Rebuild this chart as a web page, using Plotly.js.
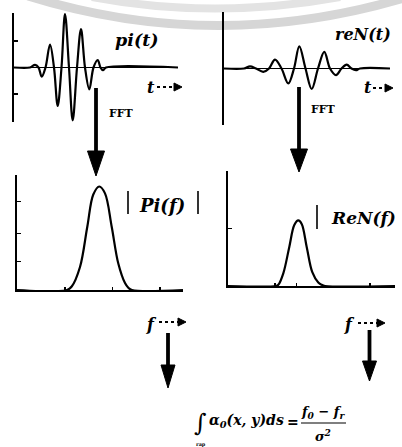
<!DOCTYPE html>
<html>
<head>
<meta charset="utf-8">
<script src="https://cdn.plot.ly/plotly-3.0.1.min.js"></script>
<style>html,body{margin:0;padding:0;background:#fff;}#chart{width:402px;height:447px;}</style>
</head>
<body>
<div id="chart"></div>
<script>
// ---- data ----
// time signal pi(t) (top left)
const tPi  = [0, 16, 21, 24.5, 27.7, 31.5, 36, 40, 43.7, 47.5, 51, 55, 58.7, 63, 67, 71, 75.3, 79.5, 83.7, 86.5, 89, 92, 164];
const piT  = [0, 0, 0.05, 0, -0.17, 0, 0.43, 0, -0.72, 0, 1.0, 0, -0.99, 0, 0.72, 0, -0.41, 0, 0.14, 0, -0.05, 0, 0];
// time signal reN(t) (top right)
const tReN = [0, 20, 26, 32, 39.3, 45, 51, 57.5, 64.3, 70, 75.3, 81.5, 87.7, 94, 100.3, 106, 112, 117.5, 122.7, 127.5, 132, 136, 166];
const reNt = [0, 0, 0.04, 0, -0.06, 0, 0.16, 0, -0.27, 0, 0.40, 0, -0.37, 0, 0.30, 0, -0.12, 0, 0.07, 0, -0.03, 0, 0];
// spectrum |Pi(f)| (bottom left)
const fPi  = [0, 50, 54.7, 63, 70.3, 76.3, 82.3, 88, 94.7, 101.3, 108, 111.3, 115, 166];
const PiF  = [0, 0, 0.03, 0.20, 0.55, 0.83, 0.90, 0.84, 0.55, 0.23, 0.06, 0.02, 0, 0];
// spectrum |ReN(f)| (bottom right)
const fReN = [0, 48, 50.3, 55.3, 61.3, 66.3, 70.3, 73.7, 78.7, 84.3, 90.3, 93.7, 97, 167];
const ReNF = [0, 0, 0.01, 0.11, 0.34, 0.53, 0.57, 0.54, 0.34, 0.12, 0.03, 0.01, 0, 0];

// ---- layout helpers (pixel -> paper) ----
const W = 402, H = 447;
const X = p => p / W;
const Y = p => 1 - p / H;
const SERIF = "DejaVu Serif";

const lineStyle = {color: '#000', width: 2.2, shape: 'spline', smoothing: 1};
const traces = [
  {x: tPi, y: piT, xaxis: 'x', yaxis: 'y', mode: 'lines', line: lineStyle, hoverinfo: 'skip'},
  {x: tReN, y: reNt, xaxis: 'x2', yaxis: 'y2', mode: 'lines', line: lineStyle, hoverinfo: 'skip'},
  {x: fPi, y: PiF, xaxis: 'x3', yaxis: 'y3', mode: 'lines', line: lineStyle, hoverinfo: 'skip'},
  {x: fReN, y: ReNF, xaxis: 'x4', yaxis: 'y4', mode: 'lines', line: lineStyle, hoverinfo: 'skip'}
];

function xa(domain, range, showline, tickvals) {
  return {domain: domain, range: range, showgrid: false, zeroline: false, showline: showline,
    linecolor: '#000', linewidth: 2, ticks: tickvals ? 'inside' : '', tickvals: tickvals || [],
    ticklen: 3, tickwidth: 1.5, tickcolor: '#000', showticklabels: false, fixedrange: true};
}
function ya(domain, range, anchor, tickvals, zl) {
  return {domain: domain, range: range, anchor: anchor, showgrid: false, zeroline: zl,
    zerolinecolor: '#000', zerolinewidth: 1.6, showline: true, linecolor: '#000', linewidth: 2,
    ticks: 'inside', tickvals: tickvals, ticklen: 4, tickwidth: 1.5, tickcolor: '#000',
    showticklabels: false, fixedrange: true};
}

const shapes = [];
// faint watermark arcs
shapes.push({type: 'path', xref: 'paper', yref: 'paper', layer: 'below',
  path: `M ${X(28)},${Y(-4)} Q ${X(214)},${Y(54)} ${X(404)},${Y(-2)}`,
  line: {color: '#d6d6d6', width: 9}});
shapes.push({type: 'path', xref: 'paper', yref: 'paper', layer: 'below',
  path: `M ${X(92)},${Y(-3)} Q ${X(214)},${Y(20)} ${X(340)},${Y(-3)}`,
  line: {color: '#e3e3e3', width: 8}});

function vArrow(x, y0, headTop, tip, half, w) {
  shapes.push({type: 'line', xref: 'paper', yref: 'paper', x0: X(x), x1: X(x), y0: Y(y0), y1: Y(headTop + 2),
    line: {color: '#000', width: w}});
  shapes.push({type: 'path', xref: 'paper', yref: 'paper',
    path: `M ${X(x - half)},${Y(headTop)} L ${X(x + half)},${Y(headTop)} L ${X(x)},${Y(tip)} Z`,
    fillcolor: '#000', line: {color: '#000', width: 1}});
}
vArrow(96, 88, 151, 176, 8.5, 3.8);
vArrow(299, 87, 149, 172, 8.5, 3.8);
vArrow(168, 333, 365, 388, 7, 3.8);
vArrow(369.5, 330, 361, 381, 7, 3.8);

function hArrow(x0, x1, y) {
  shapes.push({type: 'line', xref: 'paper', yref: 'paper', x0: X(x0), x1: X(x1 - 6), y0: Y(y), y1: Y(y),
    line: {color: '#000', width: 2, dash: 'dot'}});
  shapes.push({type: 'path', xref: 'paper', yref: 'paper',
    path: `M ${X(x1 - 8)},${Y(y - 4)} L ${X(x1)},${Y(y)} L ${X(x1 - 8)},${Y(y + 4)} Z`,
    fillcolor: '#000', line: {color: '#000', width: 1}});
}
hArrow(157, 182, 87);
hArrow(373, 393, 88);
hArrow(159, 186, 322);
hArrow(358, 385, 323);

// bars of |Pi(f)| and | ReN(f)
[[128, 191, 214], [198, 191, 214], [317, 205, 229]].forEach(b => {
  shapes.push({type: 'line', xref: 'paper', yref: 'paper', x0: X(b[0]), x1: X(b[0]), y0: Y(b[1]), y1: Y(b[2]),
    line: {color: '#000', width: 1.6}});
});
// fraction line
shapes.push({type: 'line', xref: 'paper', yref: 'paper', x0: X(301), x1: X(346), y0: Y(423), y1: Y(423),
  line: {color: '#000', width: 1.2}});

function ann(text, x, y, size, opts) {
  return Object.assign({text: text, xref: 'paper', yref: 'paper', x: X(x), y: Y(y), showarrow: false,
    xanchor: 'center', yanchor: 'middle', font: {family: SERIF, size: size, color: '#000'}}, opts || {});
}
const annotations = [
  ann('<b><i>pi(t)</i></b>', 137, 40, 17.5),
  ann('<b><i>reN(t)</i></b>', 363, 35, 16),
  ann('<b><i>t</i></b>', 151, 87, 16),
  ann('<b><i>t</i></b>', 368, 88, 16),
  ann('<b>FFT</b>', 121, 113, 11),
  ann('<b>FFT</b>', 323.5, 109, 11),
  ann('<b><i>Pi(f)</i></b>', 162, 205, 18),
  ann('<b><i>ReN(f)</i></b>', 363, 218, 17),
  ann('<b><i>f</i></b>', 151, 324, 16),
  ann('<b><i>f</i></b>', 349, 324, 16),
  ann('∫', 200, 423, 24),
  ann('<b>rap</b>', 201, 444, 5),
  ann('<b><i>α<sub>0</sub>(x, y)ds</i></b>', 207, 421, 14, {xanchor: 'left'}),
  ann('<b>=</b>', 293, 422, 14),
  ann('<b><i>f<sub>0</sub> − f<sub>r</sub></i></b>', 323, 412, 13),
  ann('<b><i>σ<sup>2</sup></i></b>', 323, 435, 13)
];

const layout = {
  width: W, height: H, margin: {l: 0, r: 0, t: 0, b: 0},
  font: {family: SERIF, color: '#000'},
  paper_bgcolor: '#fff', plot_bgcolor: 'rgba(0,0,0,0)', showlegend: false,
  xaxis: xa([X(14), X(178)], [0, 164], false),
  yaxis: ya([Y(122), Y(13)], [-1.02, 1.02], 'x', [-1.02, -0.5, 0.5, 1.02], true),
  xaxis2: xa([X(224), X(390)], [0, 166], false),
  yaxis2: ya([Y(125), Y(12)], [-1.02, 1.02], 'x2', [-1.02, 1.02], true),
  xaxis3: Object.assign(xa([X(17), X(183)], [0, 166], true, [48, 95.7, 143]), {anchor: 'y3'}),
  yaxis3: ya([Y(290), Y(175)], [0, 1], 'x3', [0.25, 0.49, 0.77, 1], false),
  xaxis4: Object.assign(xa([X(228), X(395)], [0, 167], true, [47, 68.7, 142]), {anchor: 'y4'}),
  yaxis4: ya([Y(286), Y(171)], [0, 1], 'x4', [0.5, 1], false),
  shapes: shapes, annotations: annotations
};

Plotly.newPlot('chart', traces, layout, {displayModeBar: false, staticPlot: true});
</script>
</body>
</html>
